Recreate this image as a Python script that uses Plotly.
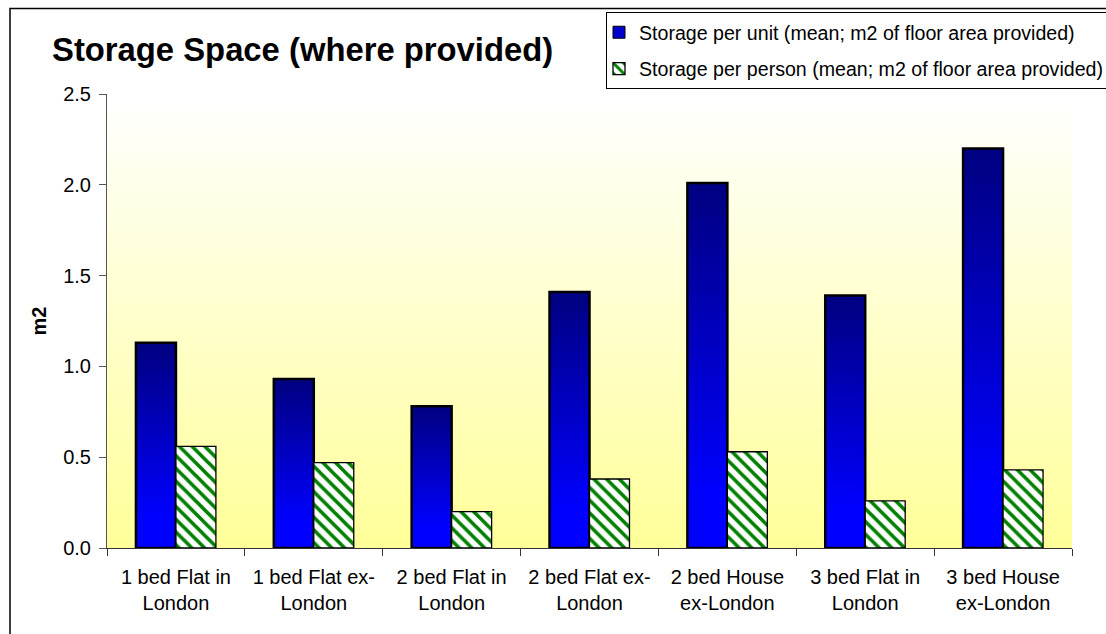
import plotly.graph_objects as go

# ---------------- data ----------------
categories = [
    "1 bed Flat in<br>London",
    "1 bed Flat ex-<br>London",
    "2 bed Flat in<br>London",
    "2 bed Flat ex-<br>London",
    "2 bed House<br>ex-London",
    "3 bed Flat in<br>London",
    "3 bed House<br>ex-London",
]
per_unit = [1.13, 0.93, 0.78, 1.41, 2.01, 1.39, 2.20]
per_person = [0.56, 0.47, 0.20, 0.38, 0.53, 0.26, 0.43]
name_unit = "Storage per unit (mean; m2 of floor area provided)"
name_person = "Storage per person (mean; m2 of floor area provided)"
y_ticks = [0.0, 0.5, 1.0, 1.5, 2.0, 2.5]

# ---------------- layout geometry ----------------
W, H = 1106, 634
L, R, T, B = 107, 34, 94, 86
PW, PH = W - L - R, H - T - B
FONT = "Liberation Sans, Arial, sans-serif"


def px_x(px):
    return (px - L) / PW


def px_y(py):
    return (H - B - py) / PH


fig = go.Figure()

# legend-only swatch for the gradient series
fig.add_trace(go.Bar(
    x=categories, y=[None] * len(categories), name=name_unit,
    marker=dict(color="#0000CC", line=dict(color="black", width=1)),
    legendgroup="a", showlegend=True, hoverinfo="skip",
))

# gradient blue bars: overlapping bars, each shorter one a brighter blue
N = 40
for k in range(N):
    frac = 1 - k / N
    t = min(1.0, ((k + 0.5) / N) / 0.85)
    b = int(round(128 + 127 * t))
    fig.add_trace(go.Bar(
        x=categories, y=[v * frac for v in per_unit],
        width=0.29, offset=-0.29,
        marker=dict(color=f"rgb(0,0,{b})", line=dict(width=0)),
        showlegend=False, hoverinfo="skip", legendgroup="a",
    ))

# outline of blue bars
fig.add_trace(go.Bar(
    x=categories, y=per_unit, width=0.29, offset=-0.29,
    marker=dict(color="rgba(0,0,0,0)", line=dict(color="black", width=2.5)),
    showlegend=False, name=name_unit, legendgroup="a",
))

# striped bars
fig.add_trace(go.Bar(
    x=categories, y=per_person, width=0.29, offset=0.0,
    name=name_person, legendgroup="b",
    marker=dict(
        color="white",
        line=dict(color="black", width=1.3),
        pattern=dict(shape="\\", fgcolor="#008000", bgcolor="white",
                     size=9, solidity=0.4, fillmode="replace"),
    ),
))

# background gradient (yellow bottom -> white top)
shapes = []
NS = 120
for i in range(NS):
    t = (i + 0.5) / NS
    bl = int(round(153 + 102 * t))
    shapes.append(dict(
        type="rect", xref="paper", yref="paper",
        x0=0, x1=1, y0=i / NS, y1=min(1.0, (i + 1.6) / NS),
        fillcolor=f"rgb(255,255,{bl})", line=dict(width=0), layer="below",
    ))

# outer chart frame
shapes.append(dict(
    type="rect", xref="paper", yref="paper",
    x0=px_x(10), x1=px_x(1130), y0=px_y(660), y1=px_y(8.5),
    line=dict(color="black", width=1.5), fillcolor="rgba(0,0,0,0)", layer="above",
))

fig.update_layout(
    width=W, height=H,
    margin=dict(l=L, r=R, t=T, b=B, pad=0, autoexpand=False),
    paper_bgcolor="white", plot_bgcolor="white",
    barmode="overlay",
    font=dict(family=FONT, size=20, color="black"),
    title=dict(
        text="<b>Storage Space (where provided)</b>",
        font=dict(family=FONT, size=32.8, color="black"),
        x=52 / W, xref="container", xanchor="left",
        y=1 - 50 / H, yref="container", yanchor="middle",
    ),
    legend=dict(
        x=606 / W, y=1 - 12 / H, xref="container", yref="container",
        xanchor="left", yanchor="top",
        bgcolor="white", bordercolor="black", borderwidth=1,
        font=dict(family=FONT, size=19.6, color="black"),
        itemwidth=30, indentation=-8,
        traceorder="grouped", tracegroupgap=8,
    ),
    shapes=shapes,
    xaxis=dict(
        type="category", range=[-0.5, len(categories) - 0.5],
        tickson="boundaries", ticks="outside", ticklen=7, tickcolor="#333",
        showline=True, linecolor="#333", linewidth=1, tickangle=0,
        automargin=False, ticklabelstandoff=11,
        showgrid=False, tickfont=dict(family=FONT, size=20, color="black"),
    ),
    yaxis=dict(
        range=[0, 2.5], tickvals=y_ticks, tickformat=".1f",
        ticks="outside", ticklen=7, tickcolor="#555",
        showline=True, linecolor="#555", linewidth=1,
        showgrid=False, zeroline=False, automargin=False,
        ticklabelstandoff=4,
        tickfont=dict(family=FONT, size=20, color="black"),
        title=dict(text="<b>m2</b>", font=dict(family=FONT, size=20, color="black"),
                   standoff=11),
    ),
)

fig.write_html(
    "out.html",
    config={"displayModeBar": False},
    post_script="document.body.style.margin='0';document.body.style.padding='0';",
)
